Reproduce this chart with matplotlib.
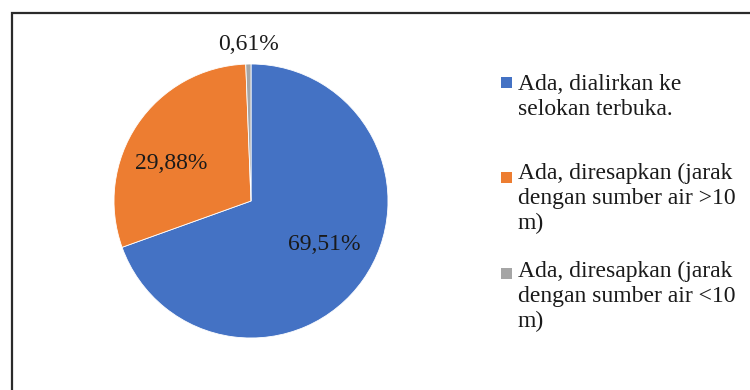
import matplotlib
matplotlib.use("Agg")
import matplotlib.pyplot as plt
import numpy as np
from matplotlib.patches import Rectangle

categories = [
    "Ada, dialirkan ke selokan terbuka.",
    "Ada, diresapkan (jarak dengan sumber air >10 m)",
    "Ada, diresapkan (jarak dengan sumber air <10 m)",
]
legend_lines = [
    ["Ada, dialirkan ke", "selokan terbuka."],
    ["Ada, diresapkan (jarak", "dengan sumber air >10", "m)"],
    ["Ada, diresapkan (jarak", "dengan sumber air <10", "m)"],
]
values = [69.51, 29.88, 0.61]
colors = ["#4472C4", "#ED7D31", "#A5A5A5"]

W, H = 750, 390
plt.rcParams["font.family"] = ["Liberation Serif", "DejaVu Serif"]
fig = plt.figure(figsize=(W / 100, H / 100), dpi=100)

def fx(px):
    return px / W

def fy(py):
    return 1 - py / H

# outer frame (only its left and top edges fall inside the canvas)
fig.patches.append(Rectangle((fx(12), fy(420)), (800 - 12) / W, (420 - 13) / H,
                             transform=fig.transFigure, fill=False,
                             edgecolor="#2b2b2b", linewidth=1.6))

cx, cy, r = 251, 201, 137
ax = fig.add_axes([fx(cx - r), fy(cy + r), 2 * r / W, 2 * r / H])
wedges, _ = ax.pie(values, colors=colors, startangle=90, counterclock=False,
                   wedgeprops=dict(linewidth=0.6, edgecolor="white"))
ax.set_xlim(-1, 1)
ax.set_ylim(-1, 1)
ax.set_aspect("equal")
ax.axis("off")

label_dist = [0.62, 0.645, 1.14]
label_shift = [4.5, 9.0, 0.0]
for w, v, d, s in zip(wedges, values, label_dist, label_shift):
    ang = np.deg2rad((w.theta1 + w.theta2) / 2 + s)
    ax.text(d * np.cos(ang), d * np.sin(ang), f"{v:.2f}".replace(".", ",") + "%",
            ha="center", va="center", fontsize=17, color="#1a1a1a", clip_on=False)

baselines = [[90, 115], [179, 204, 229], [277, 302, 327]]
square_top = [77, 172, 268]
for lines, base, top, col in zip(legend_lines, baselines, square_top, colors):
    fig.patches.append(Rectangle((fx(501), fy(top + 11)), fx(11), 11 / H,
                                 transform=fig.transFigure, facecolor=col,
                                 edgecolor="none"))
    for line, b in zip(lines, base):
        fig.text(fx(518), fy(b), line, ha="left", va="baseline",
                 fontsize=17, color="#1a1a1a")

fig.savefig("out.png", dpi=100)
